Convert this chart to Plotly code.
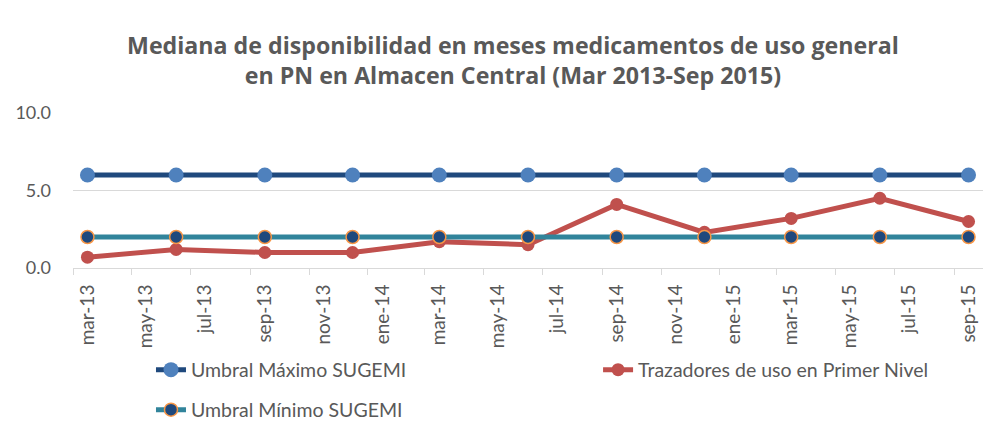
import plotly.graph_objects as go
import pandas as pd

# ---- data ----
dates = ["2013-03", "2013-06", "2013-09", "2013-12", "2014-03", "2014-06",
         "2014-09", "2014-12", "2015-03", "2015-06", "2015-09"]
umbral_max = [6.0, 6.0, 6.0, 6.0, 6.0, 6.0, 6.0, 6.0, 6.0, 6.0, 6.0]
trazadores = [0.7, 1.2, 1.0, 1.0, 1.7, 1.5, 4.1, 2.3, 3.2, 4.5, 3.0]
umbral_min = [2.0, 2.0, 2.0, 2.0, 2.0, 2.0, 2.0, 2.0, 2.0, 2.0, 2.0]
tick_dates = ["2013-03", "2013-05", "2013-07", "2013-09", "2013-11", "2014-01",
              "2014-03", "2014-05", "2014-07", "2014-09", "2014-11", "2015-01",
              "2015-03", "2015-05", "2015-07", "2015-09"]
tick_labels = ["mar-13", "may-13", "jul-13", "sep-13", "nov-13", "ene-14",
               "mar-14", "may-14", "jul-14", "sep-14", "nov-14", "ene-15",
               "mar-15", "may-15", "jul-15", "sep-15"]
y_ticks = [0, 5, 10]

x = pd.to_datetime(dates)
tx = pd.to_datetime(tick_dates)
half = pd.Timedelta(days=15)
minor_ticks = list(tx - half)

FONT = "Lato"
TFONT = "Open Sans"
GREY = "#595959"

fig = go.Figure()
fig.add_trace(go.Scatter(
    x=x, y=umbral_max, name="Umbral Máximo SUGEMI", mode="lines+markers",
    line=dict(color="#1F497D", width=5),
    marker=dict(color="#4F81BD", size=15, line=dict(width=0)),
    legend="legend", showlegend=True))
fig.add_trace(go.Scatter(
    x=x, y=trazadores, name="Trazadores de uso en Primer Nivel", mode="lines+markers",
    line=dict(color="#C0504D", width=5),
    marker=dict(color="#C0504D", size=13, line=dict(width=0)),
    legend="legend2", showlegend=True))
fig.add_trace(go.Scatter(
    x=x, y=umbral_min, name="Umbral Mínimo SUGEMI", mode="lines+markers",
    line=dict(color="#31849B", width=5),
    marker=dict(color="#1F497D", size=13, line=dict(width=1.5, color="#F79646")),
    legend="legend3", showlegend=True))

leg_common = dict(orientation="h", xanchor="left", yanchor="middle",
                  font=dict(size=19.5, color=GREY, family=FONT),
                  bgcolor="rgba(0,0,0,0)", itemwidth=30, visible=True)

fig.update_layout(
    width=994, height=441,
    margin=dict(l=65, r=19, t=105, b=181),
    paper_bgcolor="white", plot_bgcolor="white",
    font=dict(family=FONT, color=GREY),
    showlegend=True,
    title=dict(
        text="<b>Mediana de disponibilidad en meses medicamentos de uso general<br>en PN en Almacen Central (Mar 2013-Sep 2015)</b>",
        x=0.508, xanchor="center", y=0.896, yanchor="middle",
        font=dict(size=23.2, color=GREY, family=TFONT)),
    xaxis=dict(
        type="date", automargin=False,
        range=[x[0] - half, x[-1] + half],
        tickmode="array", tickvals=tx, ticktext=tick_labels,
        tickangle=-90, ticks="", ticklen=0, ticklabelstandoff=8,
        tickfont=dict(size=19, color=GREY, family=FONT),
        showgrid=False, showline=True, linecolor="#D9D9D9", linewidth=1,
        minor=dict(tickmode="array", tickvals=minor_ticks, ticks="outside",
                   ticklen=6, tickcolor="#D9D9D9", tickwidth=1, showgrid=False),
        zeroline=False),
    yaxis=dict(
        range=[0, 10], automargin=False,
        tickmode="array", tickvals=y_ticks, tickformat=".1f",
        tickfont=dict(size=18, color=GREY, family=FONT),
        showgrid=True, gridcolor="#D9D9D9", gridwidth=1,
        zeroline=False, showline=False, ticks="", ticklabelstandoff=21),
    legend=dict(x=0.0857, y=-0.658, **leg_common),
    legend2=dict(x=0.577, y=-0.658, **leg_common),
    legend3=dict(x=0.0857, y=-0.916, **leg_common),
)

fig.write_html("out.html")
